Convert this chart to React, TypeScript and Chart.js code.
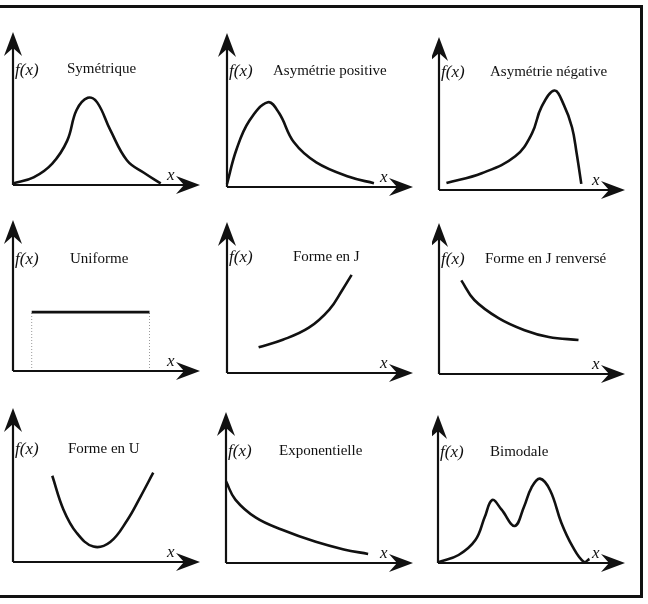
import React, { useEffect, useRef } from "react";
import { Chart, registerables } from "chart.js";
Chart.register(...registerables);

// ---- Data (x: 0..100 along the x axis, y: 0..100 along the f(x) axis) ----
const symX = [0, 11, 21, 29, 34, 40, 45, 52, 61, 70, 79];
const symY = [1, 5, 14, 29, 49, 57, 54, 36, 16, 8, 1];

const posX = [0, 5, 12, 22, 28, 36, 48, 66, 79];
const posY = [2, 24, 43, 55, 48, 29, 16, 6.5, 2.5];

const negX = [4, 23, 41, 50, 55, 62, 67, 71.5, 74, 76.5];
const negY = [4.5, 11, 22, 37, 54, 65, 56, 41, 24, 4];

const uniX = [10, 73];
const uniY = [39, 39];

const jX = [17, 30, 44, 55, 62, 67];
const jY = [17, 22, 30, 42, 55, 65];

const jrX = [12, 19, 32, 46, 59, 75];
const jrY = [62, 49, 37, 29, 24.5, 22.5];

const uX = [21, 27, 34, 43, 52, 61, 68, 75];
const uY = [56, 34, 19, 10, 13, 27, 42, 58];

const expX = [0, 5, 16, 30, 48, 63, 76];
const expY = [54, 42, 30, 22, 14, 9, 6];

const biX = [0.5, 11, 20, 25, 29, 34, 41, 46, 50, 54.5, 60, 66, 72, 78, 81];
const biY = [0.7, 5.4, 15.5, 31, 42.6, 36, 25, 38, 51, 57, 49, 27, 11, 0.7, 2.7];

const titles = [
  "Symétrique",
  "Asymétrie positive",
  "Asymétrie négative",
  "Uniforme",
  "Forme en J",
  "Forme en J renversé",
  "Forme en U",
  "Exponentielle",
  "Bimodale",
];
const yLabel = "f(x)";
const xLabel = "x";

const seriesX = [symX, posX, negX, uniX, jX, jrX, uX, expX, biX];
const seriesY = [symY, posY, negY, uniY, jY, jrY, uY, expY, biY];

// ---- Layout (page pixels) ----
type Geo = {
  cx: number; cy: number; // cell left/top
  ox: number; oy: number; // origin
  tx: number; ty: number; // arrow tips (x axis right end, y axis top end)
  fx: number; fb: number; // f(x) left, baseline
  tl: number; tb: number; // title left, baseline
};
const geos: Geo[] = [
  { cx: 0, cy: 0, ox: 13, oy: 185, tx: 200, ty: 32, fx: 15, fb: 75, tl: 67, tb: 73 },
  { cx: 216, cy: 0, ox: 227, oy: 187, tx: 413, ty: 33, fx: 229, fb: 76, tl: 273, tb: 75 },
  { cx: 432, cy: 0, ox: 439, oy: 190, tx: 625, ty: 37, fx: 441, fb: 77, tl: 490, tb: 76 },
  { cx: 0, cy: 200, ox: 13, oy: 371, tx: 200, ty: 220, fx: 15, fb: 264, tl: 70, tb: 263 },
  { cx: 216, cy: 200, ox: 227, oy: 373, tx: 413, ty: 222, fx: 229, fb: 262, tl: 293, tb: 261 },
  { cx: 432, cy: 200, ox: 439, oy: 374, tx: 625, ty: 223, fx: 441, fb: 264, tl: 485, tb: 263 },
  { cx: 0, cy: 400, ox: 13, oy: 562, tx: 200, ty: 408, fx: 15, fb: 454, tl: 68, tb: 453 },
  { cx: 216, cy: 400, ox: 226, oy: 563, tx: 413, ty: 412, fx: 228, fb: 456, tl: 279, tb: 455 },
  { cx: 432, cy: 400, ox: 438, oy: 563, tx: 625, ty: 415, fx: 440, fb: 457, tl: 490, tb: 456 },
];
const CW = 216;
const CH = 200;
const INK = "#111";

function Panel({ idx }: { idx: number }) {
  const ref = useRef<HTMLCanvasElement | null>(null);
  const g = geos[idx];
  useEffect(() => {
    if (!ref.current) return;
    const xs = seriesX[idx];
    const ys = seriesY[idx];
    const pts = xs.map((x, i) => ({ x, y: ys[i] }));
    const datasets: any[] = [
      {
        data: pts,
        borderColor: INK,
        borderWidth: 2.6,
        pointRadius: 0,
        fill: false,
        tension: 0.4,
        clip: false,
      },
    ];
    if (idx === 3) {
      xs.forEach((x) => {
        datasets.push({
          data: [{ x, y: 0 }, { x, y: ys[0] }],
          borderColor: "#9a9a9a",
          borderWidth: 1,
          borderDash: [1, 2],
          pointRadius: 0,
          fill: false,
          clip: false,
        });
      });
    }
    const deco = {
      id: "deco" + idx,
      afterDraw(chart: any) {
        const ctx = chart.ctx;
        const sx = chart.scales.x;
        const sy = chart.scales.y;
        const ox = sx.getPixelForValue(0);
        const oy = sy.getPixelForValue(0);
        const tx = sx.getPixelForValue(100);
        const ty = sy.getPixelForValue(100);
        ctx.save();
        ctx.strokeStyle = INK;
        ctx.fillStyle = INK;
        ctx.lineWidth = 2.2;
        ctx.beginPath();
        ctx.moveTo(ox, oy);
        ctx.lineTo(tx - 14, oy);
        ctx.moveTo(ox, oy);
        ctx.lineTo(ox, ty + 14);
        ctx.stroke();
        // x arrow
        ctx.beginPath();
        ctx.moveTo(tx, oy);
        ctx.lineTo(tx - 24, oy - 9);
        ctx.lineTo(tx - 16, oy);
        ctx.lineTo(tx - 24, oy + 9);
        ctx.closePath();
        ctx.fill();
        // y arrow
        ctx.beginPath();
        ctx.moveTo(ox, ty);
        ctx.lineTo(ox - 9, ty + 24);
        ctx.lineTo(ox, ty + 16);
        ctx.lineTo(ox + 9, ty + 24);
        ctx.closePath();
        ctx.fill();
        // labels
        ctx.textBaseline = "alphabetic";
        ctx.textAlign = "left";
        ctx.font = "italic 17px 'Liberation Serif', serif";
        ctx.fillText(yLabel, g.fx - g.cx, g.fb - g.cy);
        ctx.fillText(xLabel, tx - 33, oy - 5);
        ctx.font = "15px 'Liberation Serif', serif";
        ctx.fillText(titles[idx], g.tl - g.cx, g.tb - g.cy);
        ctx.restore();
      },
    };
    const chart = new Chart(ref.current, {
      type: "line",
      data: { datasets },
      options: {
        animation: false,
        responsive: false,
        events: [],
        layout: {
          padding: {
            left: g.ox - g.cx,
            top: g.ty - g.cy,
            right: g.cx + CW - g.tx,
            bottom: g.cy + CH - g.oy,
          },
        },
        plugins: { legend: { display: false }, tooltip: { enabled: false }, title: { display: false } },
        scales: {
          x: { type: "linear", min: 0, max: 100, display: false },
          y: { type: "linear", min: 0, max: 100, display: false },
        },
      },
      plugins: [deco],
    } as any);
    return () => chart.destroy();
  }, [idx]);
  return (
    <canvas
      ref={ref}
      width={CW}
      height={CH}
      style={{ position: "absolute", left: g.cx, top: g.cy, width: CW, height: CH }}
    />
  );
}

export default function App() {
  return (
    <div style={{ position: "absolute", left: 0, top: 0, width: 648, height: 604, background: "#fff", overflow: "hidden" }}>
      <div
        style={{
          position: "absolute",
          left: -10,
          top: 5,
          width: 653,
          height: 593,
          boxSizing: "border-box",
          border: "3px solid #111",
        }}
      />
      {geos.map((_, i) => (
        <Panel key={i} idx={i} />
      ))}
    </div>
  );
}
